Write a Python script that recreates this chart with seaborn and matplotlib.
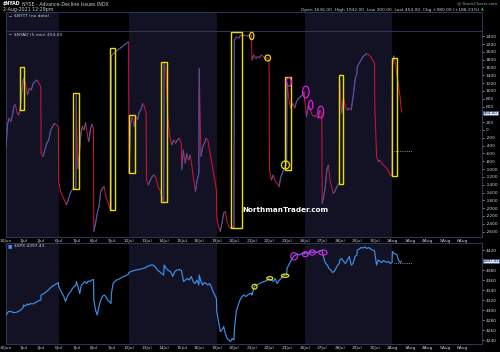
import numpy as np
import pandas as pd
import matplotlib
matplotlib.use("Agg")
import matplotlib.pyplot as plt
import seaborn as sns
from matplotlib.collections import LineCollection
from matplotlib.patches import Rectangle, Ellipse

# ---------------- data ----------------
day_labels = ["30Jun", "1Jul", "2Jul", "6Jul", "7Jul", "8Jul", "9Jul", "12Jul", "13Jul",
              "14Jul", "15Jul", "16Jul", "19Jul", "20Jul", "21Jul", "22Jul", "23Jul",
              "26Jul", "27Jul", "28Jul", "29Jul", "30Jul", "2Aug", "3Aug", "4Aug",
              "5Aug", "6Aug"]

# $NYAD intraday cumulative advance-decline, one list per trading day
nyad_wk1 = [
    [-450, 150, 300, 220, 350, 600, 650, 450, 380, 520, 950, 1280],
    [1320, 1190, 900, 1070, 1020, 1190, 1240, 1280, 1190, 1110],
    [-600, -680, -500, -340, -250, 0, 85, 170, 130, 85],
]
nyad_wk2 = [
    [-1320, -1580, -1700, -1790, -1920, -1790, -1620, -1535, -1490, -1500],
    [900, -1000, -600, -100, 100, 0, 200, -100, -300, 0, 150, 50],
    [-2600, -2390, -2130, -1960, -1580, -1490, -1450, -1700, -1830, -1960, -2050],
    [1900, 1960, 2000, 2050, 2090, 2130, 2180, 2220, 2260],
]
nyad_wk3 = [
    [-1110, 170, 340, 85, 340, 260, 470, 510, 680, 600, 430],
    [-1280, -1410, -1280, -1190, -1150, -1240, -1450, -1535, -1700, -1830],
    [1710, 1500, 300, -170, -380, -255, -340, -255, -210, -340],
    [-1020, -510, -850, -600, -770, -640, -940, -1280, -1580, -1280, -1110],
    [1580, -680, -430, -340, -210, -255, -510, -770, -1020, -1280, -1535],
]
nyad_wk4 = [
    [-2220, -2470, -2600, -2390, -2130, -2090, -2350, -2470, -2520, -2470, -2520],
    [2300, 2390, 2350, 2430, 2410, 2430, 2400, 2430, 2420],
    [1790, 1920, 1830, 1880, 1850, 1920, 1880, 1830, 1850, 1800],
    [-1020, -1280, -1150, -1320, -1365, -1450, -1190, -1070, -940, -850],
    [1230, 770, 560, 680, 560, 730, 810, 850, 900, 980],
]
nyad_wk5 = [
    [770, 340, 640, 510, 380, 340, 380, 300, 510, 430],
    [-1880, -1700, -1450, -1020, -900, -1280, -1450, -1620, -1580, -1490, -1410, -1365],
    [1300, 430, 810, 600, 510, 560, 510, 850, 1280, 1450],
    [1620, 1710, 1790, 1880, 1920, 1950, 1920, 1880, 1790, 1710],
    [600, -680, -810, -770, -850, -900, -940, -980, -1070, -1150, -1180],
]
nyad_wk6 = [
    [1636, 1900, 1700, 1370, 1150, 850, 454],
]

# $SPX intraday, one list per trading day
spx_wk1 = [
    [4290, 4297, 4297, 4295, 4295, 4297, 4300, 4305],
    [4310, 4308, 4312, 4310, 4313, 4312, 4313, 4315, 4317, 4319, 4320],
    [4330, 4333, 4337, 4343, 4348, 4351, 4355],
]
spx_wk2 = [
    [4347, 4340, 4333, 4327, 4317, 4327, 4333, 4337, 4343, 4347, 4350],
    [4357, 4347, 4333, 4350, 4353, 4357, 4353, 4358, 4357, 4360, 4361],
    [4320, 4300, 4290, 4307, 4320, 4327, 4330, 4327, 4320, 4317, 4313],
    [4333, 4353, 4357, 4360, 4361, 4363, 4365, 4367, 4368, 4370, 4372],
]
spx_wk3 = [
    [4375, 4378, 4380, 4381, 4383, 4385],
    [4387, 4388, 4390, 4390, 4387, 4380, 4377, 4373, 4370],
    [4390, 4383, 4379, 4377, 4367, 4377, 4380, 4381, 4379],
    [4377, 4357, 4360, 4363, 4360, 4367, 4357, 4353, 4360, 4350],
    [4370, 4357, 4350, 4355, 4353, 4350, 4353, 4347, 4337, 4330, 4323],
]
spx_wk4 = [
    [4297, 4277, 4257, 4260, 4267, 4253, 4243, 4240, 4237, 4243, 4240],
    [4260, 4297, 4310, 4320, 4327, 4330, 4327, 4330, 4333, 4333],
    [4330, 4347, 4350, 4353, 4355, 4357, 4359, 4363],
    [4361, 4360, 4357, 4363, 4353, 4359, 4363, 4367, 4370, 4370],
    [4383, 4390, 4397, 4403, 4408, 4410, 4412, 4410, 4412, 4413, 4412],
]
spx_wk5 = [
    [4415, 4414, 4412, 4417, 4415, 4415, 4417, 4415, 4417, 4418, 4419],
    [4418, 4403, 4393, 4390, 4383, 4380, 4375, 4377, 4383, 4390, 4393],
    [4400, 4403, 4397, 4393, 4400, 4407, 4390, 4393, 4407, 4410],
    [4420, 4422, 4425, 4424, 4426, 4423, 4425, 4422, 4420, 4418],
    [4413, 4390, 4400, 4397, 4395, 4399, 4397, 4395, 4397, 4393, 4395],
]
spx_wk6 = [
    [4417, 4413, 4412, 4410, 4400, 4395, 4397.43],
]

# tick labels (the one hidden behind the last-value tag is left out)
nyad_ticks = [x for x in range(-2600, 2401, 200) if x != 400]
spx_ticks = [x for x in range(4240, 4421, 20) if x != 4400]
nyad_last = 454.00
spx_last = 4397.43
nyad_prev_ref = -530
spx_prev_ref = 4394.6

# annotation boxes on $NYAD: (day start, day end, low, high)
box_k0 = [0.81, 3.79, 5.90, 6.98, 8.80, 12.79, 15.87, 18.95, 21.97]
box_k1 = [1.01, 4.13, 6.18, 7.32, 9.15, 13.42, 16.21, 19.17, 22.25]
box_lo = [512, -1510, -2048, -1100, -1843, -2509, -1024, -1382, -1178]
box_hi = [1613, 947, 2100, 384, 1740, 2509, 1357, 1408, 1843]

# annotation circles on $NYAD: (day pos, value, width in days, height in value)
nyad_circ_k = [13.99, 14.90, 15.91, 16.10, 17.07, 17.35, 17.92]
nyad_circ_v = [2406, 1843, -896, 1229, 973, 640, 461]
nyad_circ_w = [0.245, 0.32, 0.46, 0.285, 0.38, 0.245, 0.34]
nyad_circ_h = [187, 154, 205, 213, 300, 238, 300]
nyad_circ_c = ["y", "y", "y", "m", "m", "m", "m"]

spx_circ_k = [14.15, 15.02, 15.89, 16.40, 17.03, 17.44, 18.05]
spx_circ_v = [4346.6, 4363.4, 4368.6, 4407.4, 4411.6, 4415.0, 4415.0]
spx_circ_w = [0.285, 0.34, 0.42, 0.38, 0.34, 0.36, 0.46]
spx_circ_h = [9.4, 6.6, 6.6, 14.6, 10, 10, 10]
spx_circ_c = ["y", "y", "y", "m", "m", "m", "m"]

weeks_shaded = [(0, 3), (7, 12), (17, 22)]

# ---------------- build series ----------------
def build(weeks):
    days = [d for wk in weeks for d in wk]
    xs, ys = [], []
    for i, vals in enumerate(days):
        n = len(vals)
        span = 0.98 if i < len(days) - 1 else 0.52
        for j, v in enumerate(vals):
            xs.append(i + span * j / (n - 1))
            ys.append(v)
    return pd.DataFrame({"t": xs, "v": ys})

nyad = build([nyad_wk1, nyad_wk2, nyad_wk3, nyad_wk4, nyad_wk5, nyad_wk6])
spx = build([spx_wk1, spx_wk2, spx_wk3, spx_wk4, spx_wk5, spx_wk6])

# ---------------- style ----------------
sns.set_theme(style="dark")
plt.rcParams["font.family"] = ["DejaVu Sans"]
BG = "#000000"
NAVY = "#121224"
FRAME = "#2a3652"
TXT = "#c9ccd4"
RED = "#cc1236"
BLUE_D = "#2f62b8"
SPX_C = "#3d8fe6"
YEL = "#e8e000"
MAG = "#e01ee0"

fig = plt.figure(figsize=(5.0, 3.52), dpi=100, facecolor=BG)
W, H = 500.0, 352.0
L, R = 6.0, 482.0
ax0 = fig.add_axes([L / W, 1 - 31 / H, (R - L) / W, 19 / H])
ax1 = fig.add_axes([L / W, 1 - 237 / H, (R - L) / W, 206 / H])
ax2 = fig.add_axes([L / W, 1 - 344 / H, (R - L) / W, 101 / H])

for ax in (ax0, ax1, ax2):
    ax.set_facecolor(BG)
    ax.set_xlim(0, 27.1)
    for a, b in weeks_shaded:
        ax.axvspan(a, b, color=NAVY, lw=0, zorder=0)
    for s in ax.spines.values():
        s.set_color(FRAME)
        s.set_linewidth(0.8)
    ax.grid(False)

ax0.set_ylim(0, 1)
ax0.set_xticks([])
ax0.set_yticks([])

# --- main $NYAD panel ---
ax1.set_ylim(-2739, 2534)
sns.lineplot(data=nyad, x="t", y="v", ax=ax1, color=RED, lw=0.75,
             estimator=None, sort=False, zorder=3)
t = nyad["t"].to_numpy()
v = nyad["v"].to_numpy()
segs = [[(t[i], v[i]), (t[i + 1], v[i + 1])] for i in range(len(t) - 1) if v[i + 1] > v[i]]
ax1.add_collection(LineCollection(segs, colors=BLUE_D, linewidths=0.75, zorder=3))
ax1.hlines(nyad_prev_ref, 22.1, 23.1, colors="#aaaaaa", linestyles=(0, (1, 1.2)), lw=0.6, zorder=3)

for k0, k1, lo, hi in zip(box_k0, box_k1, box_lo, box_hi):
    ax1.add_patch(Rectangle((k0, lo), k1 - k0, hi - lo, fill=False, ec=YEL, lw=1.0, zorder=4))
for k, val, w, h, c in zip(nyad_circ_k, nyad_circ_v, nyad_circ_w, nyad_circ_h, nyad_circ_c):
    ax1.add_patch(Ellipse((k, val), w, h, fill=False, ec=YEL if c == "y" else MAG, lw=0.9, zorder=4))

# --- $SPX panel ---
ax2.set_ylim(4232, 4434)
sns.lineplot(data=spx, x="t", y="v", ax=ax2, color=SPX_C, lw=0.85,
             estimator=None, sort=False, zorder=3)
ax2.hlines(spx_prev_ref, 22.1, 23.1, colors="#aaaaaa", linestyles=(0, (1, 1.2)), lw=0.6, zorder=3)
for k, val, w, h, c in zip(spx_circ_k, spx_circ_v, spx_circ_w, spx_circ_h, spx_circ_c):
    ax2.add_patch(Ellipse((k, val), w, h, fill=False, ec=YEL if c == "y" else MAG, lw=0.9, zorder=4))

# --- ticks ---
for ax, ticks in ((ax1, nyad_ticks), (ax2, spx_ticks)):
    ax.set_xticks(range(len(day_labels)))
    ax.set_xticklabels(day_labels)
    ax.set_yticks(ticks)
    ax.set_yticklabels([str(x) for x in ticks])
    ax.yaxis.tick_right()
    ax.tick_params(axis="x", length=0, pad=1.2, labelsize=3.2, colors=TXT)
    ax.tick_params(axis="y", length=1.2, width=0.5, pad=1.2, labelsize=3.2,
                   colors=TXT, left=False, right=True)
    ax.set_xlabel("")
    ax.set_ylabel("")

# last value tags
fig.text(483.5 / W, 1 - 113 / H, f"{nyad_last:.2f}", fontsize=2.9, color="#10204a",
         ha="left", va="center",
         bbox=dict(boxstyle="square,pad=0.12", fc="#dfe5f2", ec="#3a5fa8", lw=0.4))
fig.text(483.5 / W, 1 - 261 / H, f"{spx_last:.2f}", fontsize=2.7, color="#10204a",
         ha="left", va="center",
         bbox=dict(boxstyle="square,pad=0.12", fc="#dfe5f2", ec="#3a5fa8", lw=0.4))

# legends in panels
ax0.text(0.004, 0.82, "━", transform=ax0.transAxes, fontsize=3.4, color="#4a90e2", va="center")
ax0.text(0.016, 0.82, "$NYTT (no data)", transform=ax0.transAxes, fontsize=3.2, color=TXT, va="center")
ax1.text(0.004, 0.985, "━", transform=ax1.transAxes, fontsize=3.4, color="#4a90e2", va="center")
ax1.text(0.016, 0.985, f"$NYAD (5 min) {nyad_last:.2f}", transform=ax1.transAxes,
         fontsize=3.2, color=TXT, va="center")
ax2.text(0.004, 0.975, "■", transform=ax2.transAxes, fontsize=3.4, color="#4a90e2", va="center")
ax2.text(0.016, 0.975, f"$SPX {spx_last:.2f}", transform=ax2.transAxes,
         fontsize=3.2, color=TXT, va="center")

# header
fig.text(3 / W, 1 - 4 / H, "$NYAD", fontsize=3.4, color="white", weight="bold", va="center")
fig.text(22 / W, 1 - 4 / H, "NYSE - Advance-Decline Issues INDX", fontsize=3.4, color=TXT, va="center")
fig.text(3 / W, 1 - 9.5 / H, "2-Aug-2021 12:29pm", fontsize=3.4, color=TXT, va="center")
fig.text(497 / W, 1 - 3.5 / H, "@ StockCharts.com", fontsize=3.0, color="#9aa0aa", ha="right", va="center")
fig.text(479 / W, 1 - 9.5 / H,
         "Open 1636.00  High 1942.00  Low 300.00  Last 454.00  Chg +980.00 (+188.31%)",
         fontsize=3.2, color=TXT, ha="right", va="center")
fig.text(481 / W, 1 - 9.5 / H, "▲", fontsize=2.6, color="#22cc44", ha="left", va="center")

# watermark
fig.text(285 / W, 1 - 210 / H, "NorthmanTrader.com", fontsize=5.2, color="white",
         weight="bold", ha="center", va="center")

fig.savefig("out.png", dpi=100, facecolor=BG)
